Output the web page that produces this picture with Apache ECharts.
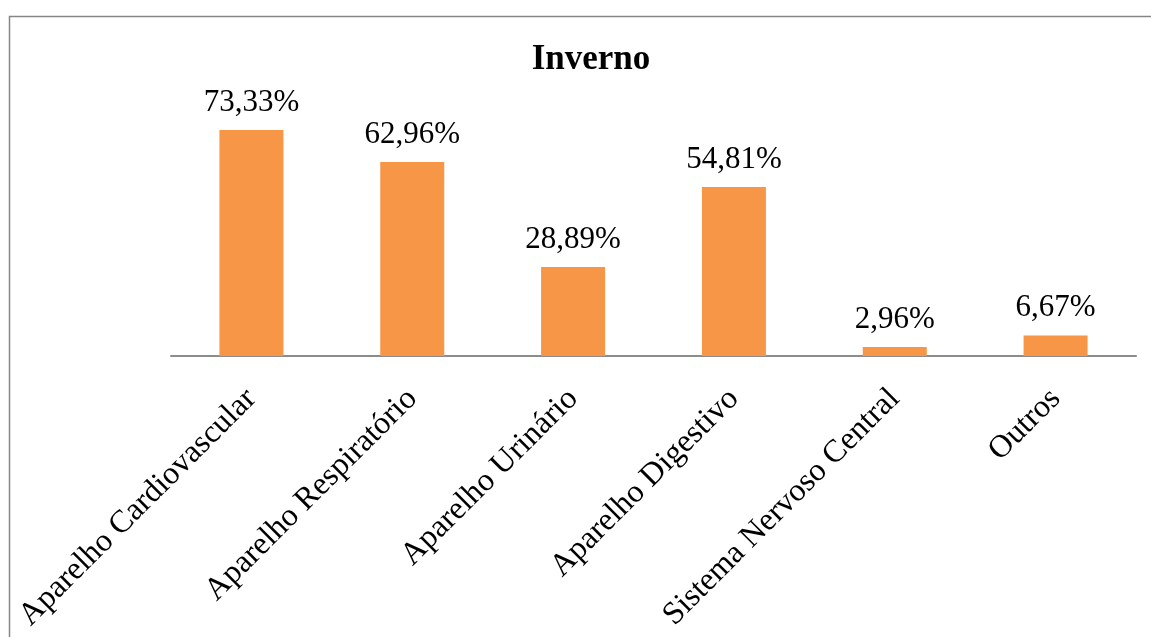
<!DOCTYPE html>
<html>
<head>
<meta charset="utf-8">
<script src="https://cdn.jsdelivr.net/npm/echarts@6/dist/echarts.min.js"></script>
<style>
  html, body { margin: 0; padding: 0; background: #fff; }
  #chart { width: 1151px; height: 637px; }
</style>
</head>
<body>
<div id="chart"></div>
<script>
// Categories and winter percentages
const categories = [
  'Aparelho Cardiovascular',
  'Aparelho Respiratório',
  'Aparelho Urinário',
  'Aparelho Digestivo',
  'Sistema Nervoso Central',
  'Outros'
];
const values = [73.33, 62.96, 28.89, 54.81, 2.96, 6.67];
const chartTitle = 'Inverno';

const serif = '"Liberation Serif", "Times New Roman", serif';

const chart = echarts.init(document.getElementById('chart'), null, { renderer: 'canvas' });
chart.setOption({
  backgroundColor: '#ffffff',
  animation: false,
  title: {
    text: chartTitle,
    left: 586,
    textAlign: 'center',
    top: 37,
    textStyle: { fontFamily: serif, fontSize: 35, fontWeight: 'bold', color: '#000' }
  },
  graphic: [{
    type: 'rect',
    shape: { x: 9.5, y: 16.5, width: 1300, height: 800 },
    style: { fill: 'none', stroke: '#868686', lineWidth: 1.5 },
    silent: true
  }],
  grid: { left: 171, top: 109.4, width: 965, height: 246.6, containLabel: false },
  xAxis: {
    type: 'category',
    data: categories,
    axisLine: { show: true, lineStyle: { color: '#8c8c8c', width: 2 } },
    axisTick: { show: false },
    axisLabel: {
      interval: 0,
      rotate: 45,
      margin: 38,
      fontFamily: serif,
      fontSize: 32,
      color: '#000'
    }
  },
  yAxis: {
    type: 'value',
    min: 0,
    max: 80,
    show: false,
    splitLine: { show: false }
  },
  series: [{
    type: 'bar',
    data: values,
    barWidth: 64,
    itemStyle: { color: '#F79646' },
    label: {
      show: true,
      position: 'top',
      distance: 12,
      fontFamily: serif,
      fontSize: 31,
      color: '#000',
      formatter: p => p.value.toFixed(2).replace('.', ',') + '%'
    }
  }]
});
</script>
</body>
</html>
